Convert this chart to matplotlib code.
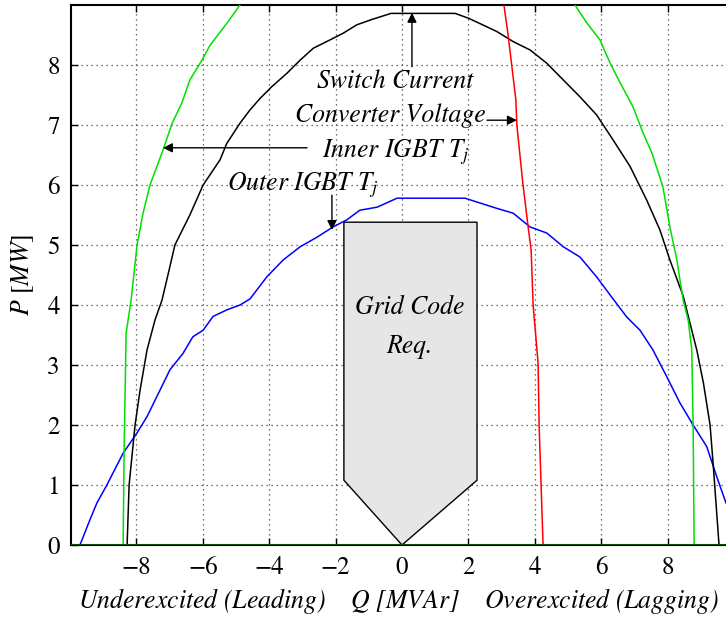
import matplotlib
matplotlib.use("Agg")
import matplotlib.pyplot as plt
from matplotlib.patches import Polygon

plt.rcParams['font.family'] = ['STIXGeneral', 'DejaVu Serif']
plt.rcParams['mathtext.fontset'] = 'stix'

# Outer IGBT junction temperature limit (blue)
outer_q = [-9.70, -9.40, -9.19, -8.89, -8.40, -7.98, -7.68, -7.29, -6.99, -6.60, -6.30,
           -5.99, -5.69, -5.27, -4.88, -4.58, -4.07, -3.58, -3.07, -2.56, -2.08, -1.66,
           -1.27, -0.75, -0.15, 1.90, 2.35, 2.86, 3.35, 3.86, 4.36, 4.86, 5.36, 5.86,
           6.36, 6.77, 7.17, 7.56, 7.98, 8.37, 8.77, 9.18, 9.48, 9.76]
outer_p = [0.00, 0.42, 0.70, 1.00, 1.53, 1.87, 2.14, 2.58, 2.92, 3.19, 3.47,
           3.58, 3.81, 3.92, 4.00, 4.10, 4.47, 4.75, 4.97, 5.13, 5.30, 5.42,
           5.58, 5.63, 5.78, 5.78, 5.70, 5.61, 5.53, 5.30, 5.20, 4.97, 4.80, 4.47,
           4.10, 3.80, 3.58, 3.25, 2.80, 2.37, 2.00, 1.64, 1.14, 0.70]

# Switch current limit (black)
switch_q = [-8.28, -8.22, -8.04, -7.89, -7.68, -7.44, -7.23, -7.05, -6.84, -6.39, -5.99,
            -5.48, -5.28, -4.88, -4.58, -4.28, -3.92, -3.47, -3.07, -2.67, -2.27, -1.77,
            -1.36, -0.90, -0.33, 1.60, 2.00, 2.35, 2.85, 3.35, 3.86, 4.36, 4.86, 5.36,
            5.86, 6.36, 6.87, 7.37, 7.77, 8.07, 8.47, 8.88, 9.08, 9.28, 9.38, 9.55]
switch_p = [0.00, 1.00, 2.00, 2.58, 3.25, 3.75, 4.08, 4.50, 5.00, 5.50, 6.00,
            6.42, 6.69, 7.03, 7.25, 7.44, 7.64, 7.86, 8.08, 8.28, 8.39, 8.53,
            8.67, 8.76, 8.86, 8.86, 8.78, 8.69, 8.56, 8.39, 8.25, 8.03, 7.75, 7.47,
            7.17, 6.75, 6.31, 5.75, 5.25, 4.75, 4.15, 3.25, 2.70, 2.00, 1.30, 0.00]

# Inner IGBT junction temperature limit (green), leading and lagging branches
inner_left_q = [-8.40, -8.37, -8.31, -8.16, -7.98, -7.80, -7.59, -7.20, -6.93, -6.63,
                -6.39, -6.08, -5.78, -5.27, -4.88]
inner_left_p = [0.00, 1.58, 3.53, 4.08, 5.00, 5.53, 6.00, 6.58, 7.02, 7.37,
                7.75, 8.03, 8.33, 8.70, 9.00]
inner_right_q = [5.21, 5.57, 5.96, 6.27, 6.48, 6.96, 7.26, 7.53, 7.86, 8.07, 8.28,
                 8.47, 8.62, 8.73, 8.77, 8.80]
inner_right_p = [9.00, 8.70, 8.42, 8.03, 7.80, 7.30, 6.87, 6.53, 5.97, 5.30, 4.75,
                 4.08, 3.75, 3.25, 2.00, 0.00]

# Converter voltage limit (red)
volt_q = [3.07, 3.19, 3.43, 3.46, 3.64, 3.80, 3.89, 3.95, 4.10, 4.13, 4.25]
volt_p = [9.00, 8.53, 7.42, 7.00, 6.03, 5.30, 4.92, 4.00, 3.03, 2.00, 0.00]

# Grid code requirement region
grid_q = [0.0, -1.75, -1.75, 2.26, 2.26, 0.0]
grid_p = [0.0, 1.08, 5.38, 5.38, 1.08, 0.0]

x_ticks = [-8, -6, -4, -2, 0, 2, 4, 6, 8]
y_ticks = [0, 1, 2, 3, 4, 5, 6, 7, 8]

fig = plt.figure(figsize=(7.26, 6.17), dpi=100)
ax = fig.add_axes([0.0978, 0.1167, 0.9022, 0.8752])

ax.add_patch(Polygon(list(zip(grid_q, grid_p)), closed=True,
                     facecolor='#e6e6e6', edgecolor='black', lw=1.0, zorder=2))
fs = 18.5
ax.text(0.24, 3.95, 'Grid Code', ha='center', va='center', style='italic', fontsize=fs, zorder=5)
ax.text(0.24, 3.30, 'Req.', ha='center', va='center', style='italic', fontsize=fs, zorder=5)

lw = 1.1
ax.plot(outer_q, outer_p, color='blue', lw=lw, zorder=3)
ax.plot(switch_q, switch_p, color='black', lw=lw, zorder=3)
ax.plot(inner_left_q, inner_left_p, color='#00e000', lw=lw, zorder=3)
ax.plot(inner_right_q, inner_right_p, color='#00e000', lw=lw, zorder=3)
ax.plot(volt_q, volt_p, color='red', lw=lw, zorder=3)

ax.axhline(0, color='#0a5a0a', lw=2.0, zorder=4)

arrow = dict(arrowstyle='-|>', color='black', lw=1.0, mutation_scale=14, shrinkA=0, shrinkB=0)
ax.annotate('', xy=(0.3, 8.87), xytext=(0.3, 7.97), arrowprops=arrow, zorder=6)
ax.text(-0.2, 7.72, 'Switch Current', ha='center', va='center', style='italic', fontsize=fs)
ax.annotate('', xy=(3.46, 7.08), xytext=(2.56, 7.08), arrowprops=arrow, zorder=6)
ax.text(-0.36, 7.15, 'Converter Voltage', ha='center', va='center', style='italic', fontsize=fs)
ax.annotate('', xy=(-7.2, 6.62), xytext=(-2.86, 6.62), arrowprops=arrow, zorder=6)
ax.text(-0.18, 6.55, 'Inner IGBT $T_j$', ha='center', va='center', style='italic', fontsize=fs)
ax.annotate('', xy=(-2.11, 5.25), xytext=(-2.11, 5.83), arrowprops=arrow, zorder=6)
ax.text(-3.0, 6.0, 'Outer IGBT $T_j$', ha='center', va='center', style='italic', fontsize=fs)

ax.set_xlim(-9.97, 9.76)
ax.set_ylim(0, 9.0)
ax.set_xticks(x_ticks)
ax.set_yticks(y_ticks)
ax.set_xticklabels(['\u2212' + str(-t) if t < 0 else str(t) for t in x_ticks])
ax.tick_params(direction='in', top=True, right=False, labelsize=18, length=5, width=1.0, pad=8)
ax.grid(True, linestyle=(0, (1, 3)), color='#444444', lw=0.9)
ax.spines['right'].set_visible(False)
for s in ('top', 'left', 'bottom'):
    ax.spines[s].set_linewidth(1.5)

ax.set_xlabel('Underexcited (Leading)    $Q$ [$MVAr$]    Overexcited (Lagging)',
              style='italic', fontsize=18.5, labelpad=4)
ax.set_ylabel('$P$ [$MW$]', fontsize=18.5, labelpad=8)

fig.savefig('out.png', dpi=100)
